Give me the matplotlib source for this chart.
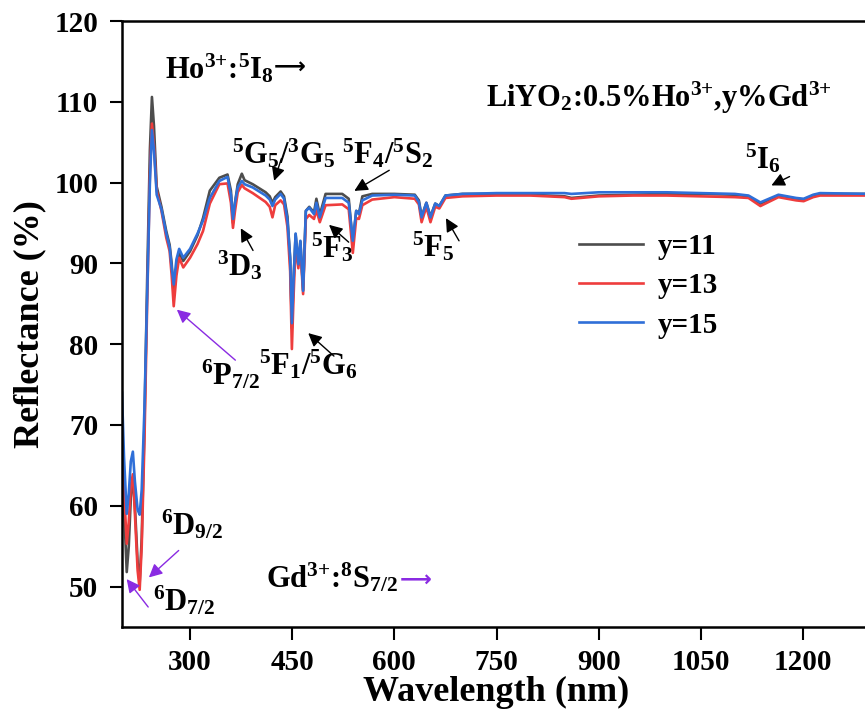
import numpy as np
import matplotlib
matplotlib.use("Agg")
import matplotlib.pyplot as plt

plt.rcParams['font.family'] = ['Liberation Serif', 'DejaVu Serif']
plt.rcParams['font.weight'] = 'bold'
plt.rcParams['mathtext.fontset'] = 'custom'
plt.rcParams['mathtext.rm'] = 'Liberation Serif:bold'
plt.rcParams['mathtext.it'] = 'Liberation Serif:bold'
plt.rcParams['mathtext.bf'] = 'Liberation Serif:bold'

# wavelength (nm) and reflectance (%)
wavelength = [200, 203, 207, 210, 213, 216, 219, 223, 226, 229, 233, 237, 241, 244, 247,
              251, 258, 265, 270, 273, 276, 280, 284, 290, 300, 311, 319, 329, 343, 355,
              360, 363, 366, 370, 376, 380, 392, 411, 417, 421, 425, 433, 438, 443, 447,
              449.5, 452, 455, 459, 462, 466, 470, 475, 482, 485.5, 490.5, 499, 523.5, 533,
              539, 544, 548, 553, 567.5, 600, 630, 636, 640, 647, 653, 660, 666, 675,
              700, 750, 800, 850, 860, 900, 950, 1000, 1050, 1100, 1120, 1137.5, 1164,
              1190, 1201, 1215, 1225, 1300]

refl_y11 = [68.5, 60, 51.8, 55, 61, 63.5, 60, 53, 50.5, 56, 70, 88, 104, 110.6, 107,
            99.5, 97, 94, 92.3, 90, 86, 89.5, 91.3, 90.3, 91.5, 93.5, 95.6, 99, 100.6, 101,
            99, 95, 97.5, 99.8, 101.1, 100.3, 99.8, 98.8, 98.3, 97.5, 98.2, 98.9, 98.3, 95.8, 90.5,
            82, 88, 93.6, 89.8, 92.7, 86.7, 96.5, 97, 96.3, 98, 96, 98.6, 98.6, 98,
            92.5, 96.5, 96.2, 98.3, 98.6, 98.6, 98.5, 97.8, 95.8, 97.5, 95.8, 97.4, 97.1, 98.4,
            98.6, 98.6, 98.5, 98.3, 98.1, 98.4, 98.5, 98.6, 98.6, 98.5, 98.3, 97.4, 98.4,
            98.0, 97.9, 98.4, 98.6, 98.6]

refl_y13 = [69.5, 62, 55.3, 58, 62.5, 63.9, 59, 52, 49.6, 55, 68, 85, 101, 107.3, 104.5,
            99, 96.5, 93.2, 91.5, 88.5, 84.7, 88.5, 90.7, 89.5, 90.7, 92.4, 94, 97.4, 99.8, 99.9,
            97.5, 94.4, 96.5, 98.8, 99.7, 99.3, 98.7, 97.6, 97.0, 95.7, 97.2, 97.8, 97.3, 94.5, 89,
            79.4, 86, 92.4, 89.4, 91.8, 86.2, 95.5, 96, 95.5, 96.6, 95.1, 97.2, 97.3, 96.7,
            91.3, 95.6, 95.5, 97.2, 97.9, 98.2, 98.0, 97.3, 95.1, 97.0, 95.1, 97.0, 96.8, 98.1,
            98.3, 98.4, 98.4, 98.2, 98.0, 98.3, 98.4, 98.4, 98.3, 98.2, 98.1, 97.1, 98.2,
            97.8, 97.7, 98.2, 98.4, 98.4]

refl_y15 = [74.0, 66, 59.0, 61.5, 65.5, 66.7, 63, 59.5, 58.9, 62, 72, 86, 100, 106.5, 104,
            98.5, 96.7, 93.7, 92, 89.5, 87.4, 90.5, 91.8, 90.7, 91.8, 93.7, 95.3, 98.1, 100.2, 100.7,
            98.5, 95.5, 97.5, 99.4, 100.2, 99.8, 99.4, 98.4, 97.9, 97.1, 97.9, 98.6, 98.0, 95.3, 90.7,
            82.6, 88, 93.7, 89.9, 92.8, 86.6, 96.5, 96.9, 96.1, 97.5, 95.7, 98.1, 98.1, 97.5,
            92.8, 96.5, 96.1, 97.8, 98.4, 98.5, 98.4, 97.6, 95.7, 97.5, 95.7, 97.4, 97.1, 98.4,
            98.6, 98.7, 98.7, 98.7, 98.6, 98.8, 98.8, 98.8, 98.7, 98.6, 98.4, 97.55, 98.5,
            98.1, 98.0, 98.5, 98.7, 98.6]

series = [("y=11", refl_y11, "#4d4d4d"),
          ("y=13", refl_y13, "#ee3d3d"),
          ("y=15", refl_y15, "#2f6fd8")]

fig = plt.figure(figsize=(8.65, 7.22), dpi=100)
ax = fig.add_axes([0.141, 0.1316, 0.866, 0.8393])

for label, vals, col in series:
    ax.plot(wavelength, vals, color=col, lw=1.9, label=label)

ax.set_xlim(200, 1300)
ax.set_ylim(45, 120)
ax.set_xticks([300, 450, 600, 750, 900, 1050, 1200])
ax.set_yticks([50, 60, 70, 80, 90, 100, 110, 120])
ax.tick_params(axis='both', direction='out', length=9, width=1.5, labelsize=21, pad=8)
ax.tick_params(axis='x', pad=7)
for s in ax.spines.values():
    s.set_linewidth(1.8)
ax.spines['right'].set_visible(False)

ax.set_xlabel("Wavelength (nm)", fontsize=26, fontweight='bold', labelpad=0)
ax.set_ylabel("Reflectance (%)", fontsize=26, fontweight='bold', labelpad=6)

leg = ax.legend(loc='upper left', bbox_to_anchor=(0.61, 0.65), frameon=False,
                fontsize=21, handlelength=2.2, handletextpad=0.5, labelspacing=0.42,
                borderpad=0, borderaxespad=0)

fs = 22
purple = "#8a2be2"
arrow_font = ['DejaVu Sans']
ax.text(263, 112.9, r"Ho$^{3{+}}$:$^5$I$_8$", fontsize=fs, ha='left', va='baseline')
ax.text(423, 114.3, "⟶", fontsize=16, family=arrow_font, ha='left', va='center')
ax.text(735, 109.35, r"LiYO$_2$:0.5%Ho$^{3{+}}$,y%Gd$^{3{+}}$", fontsize=fs,
        ha='left', va='baseline')
ax.text(411.5, 49.9, r"Gd$^{3{+}}$:$^8$S$_{7/2}$", fontsize=fs, ha='left', va='baseline')
ax.text(608, 50.8, "⟶", fontsize=16, family=arrow_font, color=purple, ha='left', va='center')

black_arrows = [
    (r"$^5$G$_5$/$^3$G$_5$", (362, 102.4), (435.4, 103.3), (422.2, 99.9)),
    (r"$^5$F$_4$/$^5$S$_2$", (523, 102.4), (596, 101.7), (537.7, 98.8)),
    (r"$^3$D$_3$", (340, 88.45), (394.4, 91.3), (372.5, 94.65)),
    (r"$^5$F$_3$", (477, 90.7), (536, 92.4), (501, 95.0)),
    (r"$^5$F$_5$", (625.4, 90.9), (697, 92.5), (673.7, 95.9)),
    (r"$^5$F$_1$/$^5$G$_6$", (401.8, 76.3), (514.3, 78.3), (470.5, 81.6)),
    (r"$^5$I$_6$", (1115, 101.7), (1184, 100.9), (1150, 99.5)),
]
for txt, pos, start, tip in black_arrows:
    ax.text(pos[0], pos[1], txt, fontsize=fs, ha='left', va='baseline')
    ax.annotate("", xy=tip, xytext=start,
                arrowprops=dict(arrowstyle='-|>', color='k', lw=1.0, mutation_scale=20))

purple_arrows = [
    (r"$^6$P$_{7/2}$", (315.5, 75.0), (369.6, 77.8), (277.5, 84.5)),
    (r"$^6$D$_{9/2}$", (256.6, 56.4), (286.3, 54.7), (236.5, 50.9)),
    (r"$^6$D$_{7/2}$", (245.8, 47.1), (241, 47.2), (204.4, 51.2)),
]
for txt, pos, start, tip in purple_arrows:
    ax.text(pos[0], pos[1], txt, fontsize=fs, ha='left', va='baseline')
    ax.annotate("", xy=tip, xytext=start,
                arrowprops=dict(arrowstyle='-|>', color=purple, lw=1.0, mutation_scale=20))

fig.savefig("out.png", dpi=100)
